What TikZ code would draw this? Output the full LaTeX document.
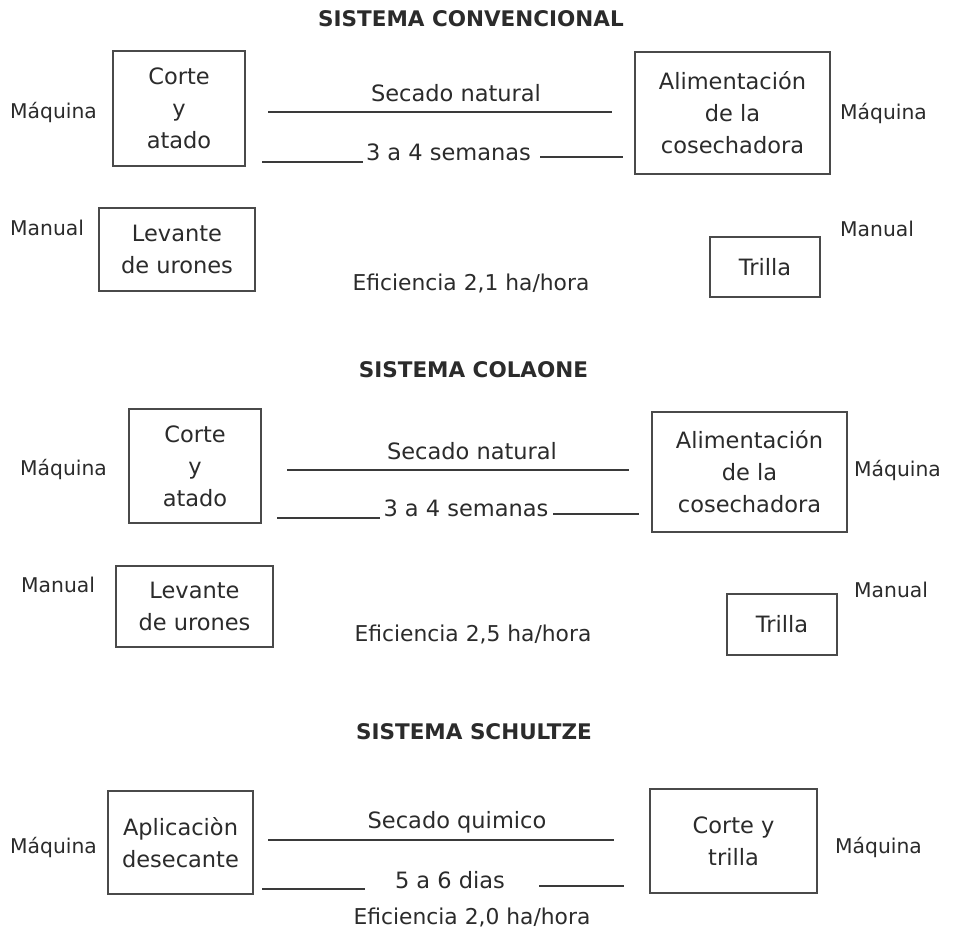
\documentclass[tikz,border=0pt]{standalone}
\usepackage{fontspec}
\setmainfont{DejaVu Sans}
\definecolor{ink}{HTML}{2B2B2B}
\definecolor{boxline}{HTML}{4A4A4A}
\definecolor{ruleink}{HTML}{3A3A3A}
\tikzset{
  txt/.style={inner sep=0pt, text=ink, font=\fontsize{22.5}{32}\selectfont, align=center},
  lbl/.style={inner sep=0pt, text=ink, font=\fontsize{20.3}{24}\selectfont},
  eff/.style={inner sep=0pt, text=ink, font=\fontsize{21.8}{26}\selectfont},
  ttl/.style={inner sep=0pt, text=ink, font=\bfseries\fontsize{21.5}{26}\selectfont},
  procbox/.style={draw=boxline, line width=1.4pt, inner sep=0pt, text=ink,
    font=\fontsize{22.5}{32}\selectfont, align=center},
  rule/.style={draw=ruleink, line width=1.3pt}
}
\begin{document}
\begin{tikzpicture}[x=1pt,y=-1pt]
\fill[white] (0,0) rectangle (954,945);
\useasboundingbox (0,0) rectangle (954,945);

% ---------------- SISTEMA CONVENCIONAL ----------------
\node[ttl] (t1) at (471,19) {SISTEMA CONVENCIONAL};
\node[procbox, minimum width=132pt, minimum height=115pt] (c1) at (179,108.5) {Corte\\y\\atado};
\node[procbox, minimum width=195pt, minimum height=122pt] (a1) at (732.5,113) {Alimentación\\de la\\cosechadora};
\node[lbl, anchor=west] (m1l) at (10,112) {Máquina};
\node[lbl, anchor=west] (m1r) at (840,113) {Máquina};
\node[txt] (sn1) at (456,93) {Secado natural};
\coordinate (r1a) at (268,112); \coordinate (r1b) at (612,112);
\draw[rule] (r1a) -- (r1b);
\node[txt, anchor=base] (w1) at (448.5,160) {3 a 4 semanas};
\coordinate (r1c) at (262,162); \coordinate (r1d) at (363,162);
\draw[rule] (r1c) -- (r1d);
\coordinate (r1e) at (540,157); \coordinate (r1f) at (623,157);
\draw[rule] (r1e) -- (r1f);
\node[lbl, anchor=west] (u1l) at (10,228) {Manual};
\node[procbox, minimum width=156pt, minimum height=83pt] (l1) at (177,249.5) {Levante\\de urones};
\node[eff] (e1) at (471,283) {Eficiencia 2,1 ha/hora};
\node[lbl, anchor=west] (u1r) at (840,229) {Manual};
\node[procbox, minimum width=110pt, minimum height=60pt] (tr1) at (765,267) {Trilla};

% ---------------- SISTEMA COLAONE ----------------
\node[ttl] (t2) at (473.5,370) {SISTEMA COLAONE};
\node[procbox, minimum width=132pt, minimum height=114pt] (c2) at (195,466) {Corte\\y\\atado};
\node[procbox, minimum width=195pt, minimum height=120pt] (a2) at (749.5,472) {Alimentación\\de la\\cosechadora};
\node[lbl, anchor=west] (m2l) at (20,469) {Máquina};
\node[lbl, anchor=west] (m2r) at (854,470) {Máquina};
\node[txt] (sn2) at (472,451) {Secado natural};
\coordinate (r2a) at (287,470); \coordinate (r2b) at (629,470);
\draw[rule] (r2a) -- (r2b);
\node[txt, anchor=base] (w2) at (466,516) {3 a 4 semanas};
\coordinate (r2c) at (277,518); \coordinate (r2d) at (380,518);
\draw[rule] (r2c) -- (r2d);
\coordinate (r2e) at (553,514); \coordinate (r2f) at (639,514);
\draw[rule] (r2e) -- (r2f);
\node[lbl, anchor=west] (u2l) at (21,585) {Manual};
\node[procbox, minimum width=157pt, minimum height=81pt] (l2) at (194.5,606.5) {Levante\\de urones};
\node[eff] (e2) at (473,634) {Eficiencia 2,5 ha/hora};
\node[lbl, anchor=west] (u2r) at (854,590) {Manual};
\node[procbox, minimum width=110pt, minimum height=61pt] (tr2) at (782,624.5) {Trilla};

% ---------------- SISTEMA SCHULTZE ----------------
\node[ttl] (t3) at (474,732) {SISTEMA SCHULTZE};
\node[procbox, minimum width=145pt, minimum height=103pt] (ap) at (180.5,842.5) {Aplicaciòn\\desecante};
\node[procbox, minimum width=167pt, minimum height=104pt] (ct) at (733.5,841) {Corte y\\trilla};
\node[lbl, anchor=west] (m3l) at (10,847) {Máquina};
\node[lbl, anchor=west] (m3r) at (835,847) {Máquina};
\node[txt] (sq) at (457,822) {Secado quimico};
\coordinate (r3a) at (268,840); \coordinate (r3b) at (614,840);
\draw[rule] (r3a) -- (r3b);
\node[txt] (d3) at (450,880) {5 a 6 dias};
\coordinate (r3c) at (262,889); \coordinate (r3d) at (365,889);
\draw[rule] (r3c) -- (r3d);
\coordinate (r3e) at (539,886); \coordinate (r3f) at (624,886);
\draw[rule] (r3e) -- (r3f);
\node[eff] (e3) at (472,917) {Eficiencia 2,0 ha/hora};
\end{tikzpicture}
\end{document}
